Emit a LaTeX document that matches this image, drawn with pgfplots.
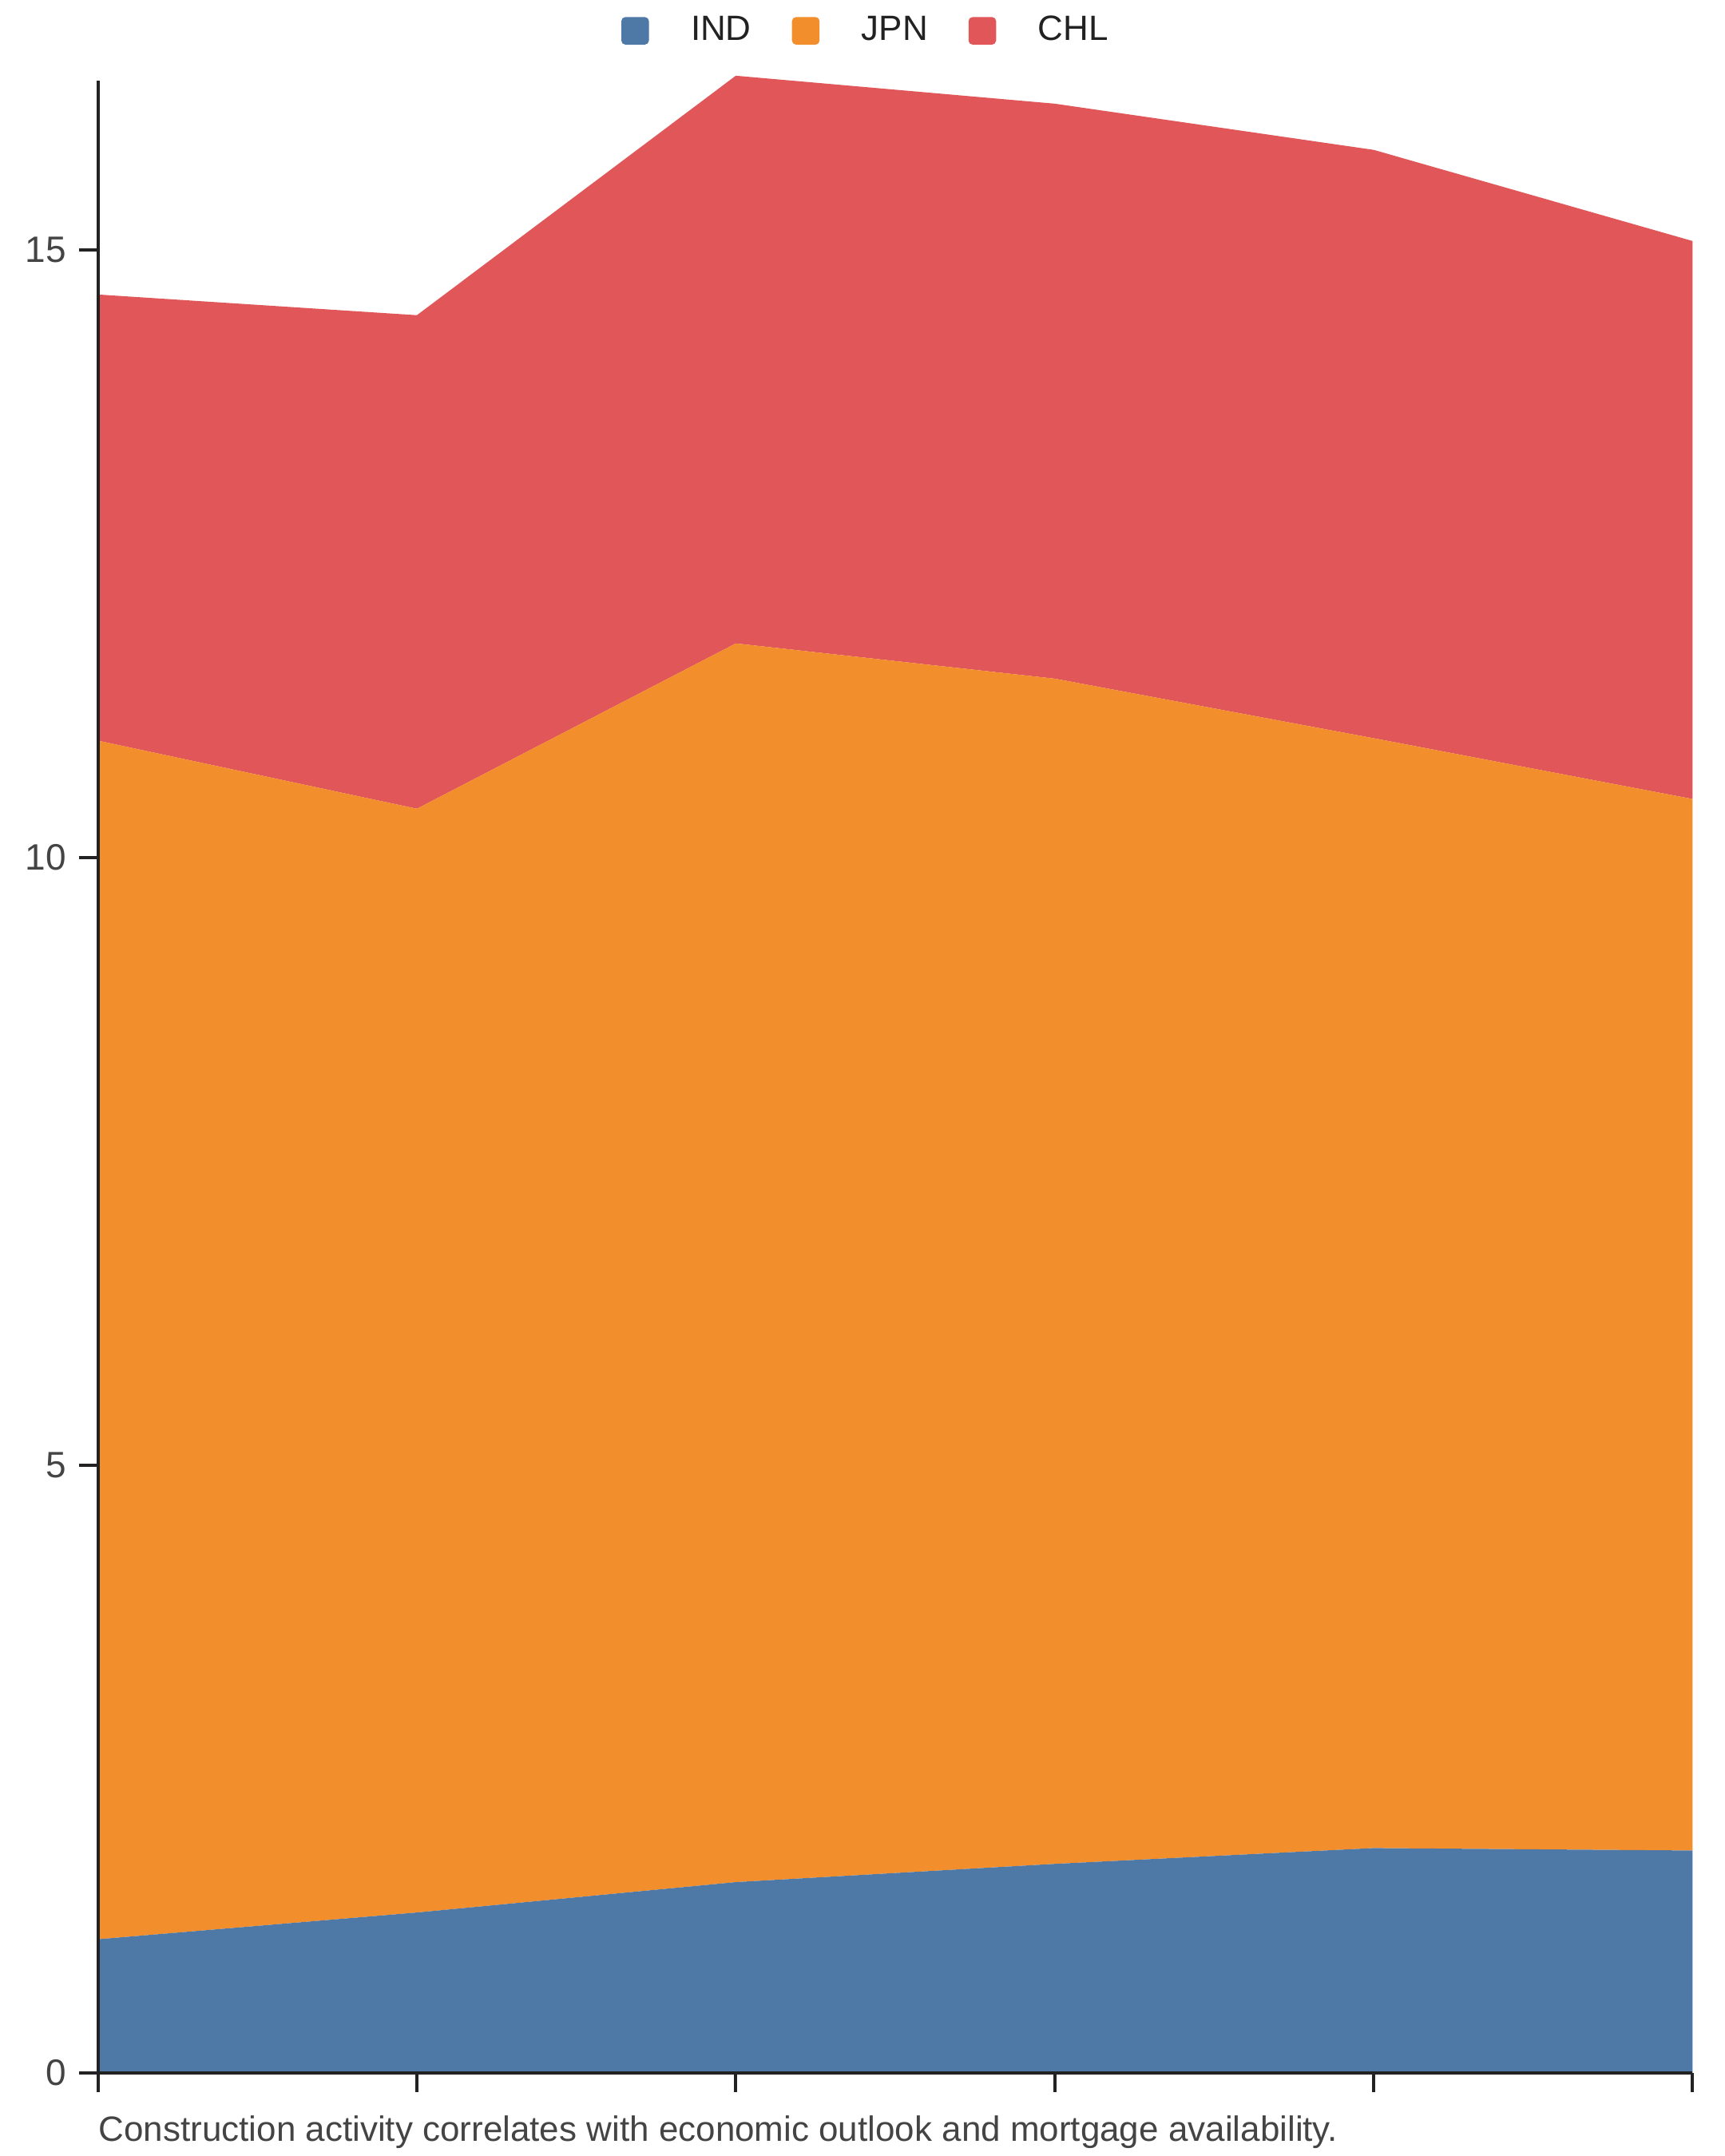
\documentclass[border=0pt]{standalone}
\usepackage{pgfplots}
\pgfplotsset{compat=1.18}
\usepackage{fontspec}
\setmainfont{Liberation Sans}
\definecolor{cind}{HTML}{4E79A7}
\definecolor{cjpn}{HTML}{F28E2B}
\definecolor{cchl}{HTML}{E15759}
\definecolor{tickc}{HTML}{444444}
\definecolor{legc}{HTML}{222222}
\definecolor{capc}{HTML}{444444}
\definecolor{axc}{HTML}{222222}

\begin{document}
\fontsize{8.8pt}{10.5pt}\selectfont
\begin{tikzpicture}
\begin{axis}[
  name=ax, at={(0,0)}, anchor=south west,
  scale only axis, width=399.5pt, height=499.2pt,
  xmin=0, xmax=5, ymin=0, ymax=16.39,
  clip=false,
  stack plots=y, area style,
  axis x line=bottom, axis y line=left,
  axis line style={-, axc, line width=0.8pt},
  xtick={0,1,2,3,4,5}, xticklabels={},
  ytick={0,5,10,15},
  tick align=outside, major tick length=4.8pt,
  tick style={line width=0.8pt, axc},
  /pgf/number format/assume math mode=true,
  yticklabel style={font=\fontsize{9.2pt}{11pt}\selectfont, text=tickc},
  legend columns=3,
  legend image code/.code={\fill[rounded corners=1pt] (0pt,-3.45pt) rectangle (6.9pt,3.45pt);},
  legend style={at={(0.4834,1.02496)}, anchor=center, draw=none, fill=none,
    font=\fontsize{8.8pt}{10.5pt}\selectfont, text=legc,
    /tikz/every odd column/.append style={column sep=8.5pt},
    /tikz/every even column/.append style={column sep=8.2pt}},
]
\addplot[fill=cind, draw=none] coordinates {(0,1.10) (1,1.32) (2,1.57) (3,1.72) (4,1.85) (5,1.83)} \closedcycle;
\addplot[fill=cjpn, draw=none] coordinates {(0,9.86) (1,9.08) (2,10.19) (3,9.75) (4,9.13) (5,8.65)} \closedcycle;
\addplot[fill=cchl, draw=none] coordinates {(0,3.67) (1,4.06) (2,4.67) (3,4.73) (4,4.84) (5,4.59)} \closedcycle;
\legend{IND, JPN, CHL}
\end{axis}
\node[anchor=base west, inner sep=0pt, text=capc] at ([yshift=-17pt]ax.south west) {Construction activity correlates with economic outlook and mortgage availability.};
\path (-24.54pt,-20.8pt) rectangle (407.46pt,519.2pt);
\end{tikzpicture}
\end{document}
